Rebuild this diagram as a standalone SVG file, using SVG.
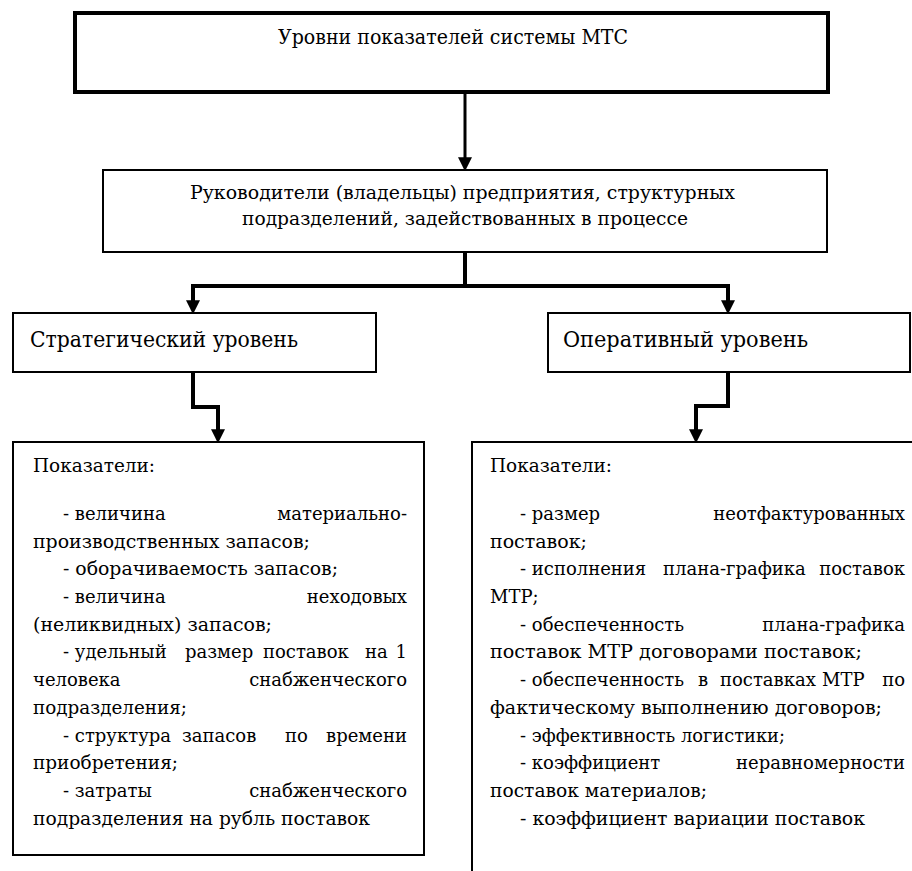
<svg xmlns="http://www.w3.org/2000/svg" width="912" height="871" viewBox="0 0 912 871">
<style>
  .box { fill: #fff; stroke: #000; stroke-width: 2; }
  .thick { stroke-width: 4; }
  .t { font-family: "DejaVu Serif", "Liberation Serif", serif; fill: #000; }
  .h1 { font-size: 21px; }
  .h2 { font-size: 19px; }
  .lv { font-size: 23px; }
  .b { font-size: 18px; }
  .r { text-anchor: end; }
  .c { fill: none; stroke: #000; stroke-width: 4; stroke-linejoin: miter; }
</style>
<defs>
  <marker id="ah" markerUnits="userSpaceOnUse" markerWidth="14" markerHeight="14" viewBox="0 0 12 12" refX="4" refY="6" orient="auto">
    <path d="M0,0 L12,6 L0,12 z" fill="#000"/>
  </marker>
</defs>
<rect width="912" height="871" fill="#fff"/>

<g id="connectors">
  <path class="c" style="stroke-width:3" d="M465 94 V162" marker-end="url(#ah)"/>
  <path class="c" d="M465 252 V286"/>
  <path class="c" d="M465 286 H193 V305" marker-end="url(#ah)"/>
  <path class="c" d="M465 286 H728 V305" marker-end="url(#ah)"/>
  <path class="c" d="M193 372 V407 H218 V434" marker-end="url(#ah)"/>
  <path class="c" d="M728 372 V406 H696 V434" marker-end="url(#ah)"/>
</g>

<g id="top">
  <rect class="box thick" x="75" y="13" width="753" height="79"/>
  <text class="t h1" x="278" y="44" textLength="350" lengthAdjust="spacingAndGlyphs">Уровни показателей системы МТС</text>
</g>

<g id="owners">
  <rect class="box" x="103" y="170" width="724" height="82"/>
  <text class="t h2" x="190" y="199" textLength="545" lengthAdjust="spacingAndGlyphs">Руководители (владельцы) предприятия, структурных</text>
  <text class="t h2" x="242" y="225" textLength="446" lengthAdjust="spacingAndGlyphs">подразделений, задействованных в процессе</text>
</g>

<g id="strategic">
  <rect class="box" x="13" y="313" width="363" height="59"/>
  <text class="t lv" x="30" y="347" textLength="268" lengthAdjust="spacingAndGlyphs">Стратегический уровень</text>
</g>

<g id="operative">
  <rect class="box" x="548" y="313" width="362" height="59"/>
  <text class="t lv" x="563" y="347" textLength="245" lengthAdjust="spacingAndGlyphs">Оперативный уровень</text>
</g>

<g id="strategic-indicators">
  <rect class="box" x="13" y="442" width="411" height="413"/>
  <text class="t b" x="33" y="472" textLength="122" lengthAdjust="spacingAndGlyphs">Показатели:</text>
  <text class="t b" x="63" y="520">- величина</text>
  <text class="t b r" x="407" y="520">материально-</text>
  <text class="t b" x="33" y="548" textLength="277" lengthAdjust="spacingAndGlyphs">производственных запасов;</text>
  <text class="t b" x="63" y="575" textLength="275" lengthAdjust="spacingAndGlyphs">- оборачиваемость запасов;</text>
  <text class="t b" x="63" y="603">- величина</text>
  <text class="t b r" x="407" y="603">неходовых</text>
  <text class="t b" x="33" y="631" textLength="239" lengthAdjust="spacingAndGlyphs">(неликвидных) запасов;</text>
  <text class="t b" y="658"><tspan x="63">- удельный</tspan><tspan x="185">размер</tspan><tspan x="263">поставок</tspan><tspan x="365">на</tspan></text>
  <text class="t b r" x="407" y="658">1</text>
  <text class="t b" x="33" y="686">человека</text>
  <text class="t b r" x="407" y="686">снабженческого</text>
  <text class="t b" x="33" y="714" textLength="154" lengthAdjust="spacingAndGlyphs">подразделения;</text>
  <text class="t b" y="742"><tspan x="63">- структура</tspan><tspan x="182">запасов</tspan><tspan x="285">по</tspan></text>
  <text class="t b r" x="407" y="742">времени</text>
  <text class="t b" x="33" y="769" textLength="145" lengthAdjust="spacingAndGlyphs">приобретения;</text>
  <text class="t b" x="63" y="797">- затраты</text>
  <text class="t b r" x="407" y="797">снабженческого</text>
  <text class="t b" x="33" y="825" textLength="337" lengthAdjust="spacingAndGlyphs">подразделения на рубль поставок</text>
</g>

<g id="operative-indicators">
  <rect class="box" x="472" y="442" width="460" height="460"/>
  <text class="t b" x="490" y="472" textLength="122" lengthAdjust="spacingAndGlyphs">Показатели:</text>
  <text class="t b" x="520" y="520">- размер</text>
  <text class="t b r" x="905" y="520">неотфактурованных</text>
  <text class="t b" x="490" y="548" textLength="97" lengthAdjust="spacingAndGlyphs">поставок;</text>
  <text class="t b" y="575"><tspan x="520">- исполнения</tspan><tspan x="663">плана-графика</tspan></text>
  <text class="t b r" x="905" y="575">поставок</text>
  <text class="t b" x="490" y="603">МТР;</text>
  <text class="t b" x="520" y="631">- обеспеченность</text>
  <text class="t b r" x="905" y="631">плана-графика</text>
  <text class="t b" x="490" y="658" textLength="372" lengthAdjust="spacingAndGlyphs">поставок МТР договорами поставок;</text>
  <text class="t b" y="686"><tspan x="520">- обеспеченность</tspan><tspan x="698">в</tspan><tspan x="720">поставках</tspan><tspan x="822">МТР</tspan></text>
  <text class="t b r" x="905" y="686">по</text>
  <text class="t b" x="490" y="714" textLength="392" lengthAdjust="spacingAndGlyphs">фактическому выполнению договоров;</text>
  <text class="t b" x="520" y="742" textLength="265" lengthAdjust="spacingAndGlyphs">- эффективность логистики;</text>
  <text class="t b" x="520" y="769">- коэффициент</text>
  <text class="t b r" x="905" y="769">неравномерности</text>
  <text class="t b" x="490" y="797" textLength="217" lengthAdjust="spacingAndGlyphs">поставок материалов;</text>
  <text class="t b" x="520" y="825" textLength="345" lengthAdjust="spacingAndGlyphs">- коэффициент вариации поставок</text>
</g>
</svg>
